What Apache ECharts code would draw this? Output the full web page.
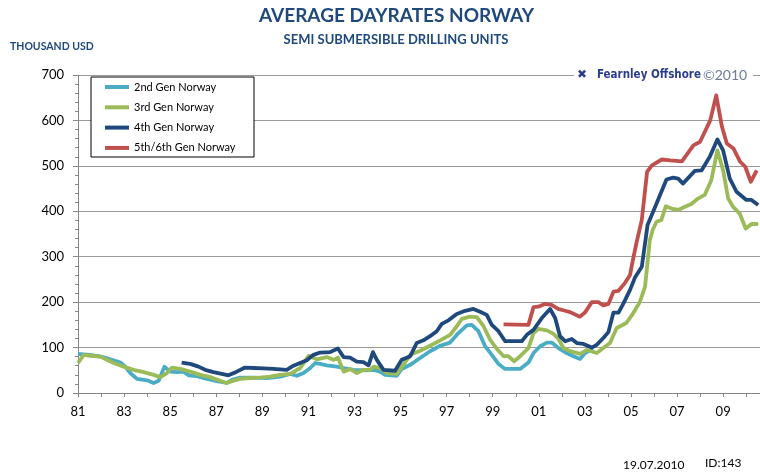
<!DOCTYPE html>
<html>
<head>
<meta charset="utf-8">
<script src="https://cdn.jsdelivr.net/npm/echarts@6/dist/echarts.min.js"></script>
<style>html,body{margin:0;padding:0;background:#fff}#c{width:760px;height:475px}</style>
</head>
<body>
<div id="c"></div>
<script>
// ---- data (year, thousand USD) ----
const seriesNames = ['2nd Gen Norway', '3rd Gen Norway', '4th Gen Norway', '5th/6th Gen Norway'];

const gen2Years = [1981.0,1981.5,1982.0,1982.4,1982.85,1983.05,1983.27,1983.56,1984.0,1984.28,1984.5,1984.75,1985.0,1985.3,1985.58,1985.8,1986.16,1986.6,1987.03,1987.46,1987.68,1988.04,1988.62,1989.2,1989.78,1990.21,1990.5,1990.79,1991.08,1991.3,1991.51,1991.8,1992.24,1992.53,1992.96,1993.54,1993.83,1994.12,1994.33,1994.84,1995.05,1995.42,1995.85,1996.28,1996.72,1997.15,1997.51,1997.88,1998.09,1998.38,1998.67,1998.96,1999.25,1999.54,2000.19,2000.55,2000.77,2001.06,2001.35,2001.56,2001.85,2002.21,2002.5,2002.79,2003.01,2003.35];
const gen2Values = [86,84,80,74,67,58,44,31,28,22,27,58,47,46,47,39,37,31,26,22,29,34,34,33,36,42,38,44,55,66,64,61,58,55,51,50,51,47,40,38,53,62,77,92,104,111,132,149,150,136,103,84,64,53,53,67,88,103,111,111,99,88,81,75,88,97];

const gen3Years = [1981.0,1981.25,1981.54,1981.97,1982.26,1982.55,1982.98,1983.41,1983.85,1984.28,1984.57,1984.86,1985.08,1985.44,1985.87,1986.31,1986.74,1987.17,1987.46,1987.68,1988.04,1988.48,1988.91,1989.34,1989.78,1990.21,1990.65,1991.01,1991.37,1991.8,1992.09,1992.28,1992.53,1992.81,1993.1,1993.39,1993.68,1993.83,1994.12,1994.41,1994.84,1995.05,1995.42,1995.85,1996.28,1996.72,1997.15,1997.44,1997.66,1998.02,1998.31,1998.6,1998.89,1999.18,1999.47,1999.68,1999.93,2000.19,2000.55,2000.77,2000.98,2001.35,2001.64,2001.85,2002.07,2002.36,2002.8,2003.09,2003.51,2003.8,2004.09,2004.38,2004.8,2005.1,2005.39,2005.61,2005.82,2005.95,2006.11,2006.32,2006.51,2006.76,2007.05,2007.34,2007.62,2007.91,2008.2,2008.49,2008.75,2009.0,2009.22,2009.43,2009.72,2009.98,2010.23,2010.52];
const gen3Values = [66,84,82,80,73,66,58,51,46,40,35,44,56,53,47,40,35,27,22,26,31,33,34,36,40,42,55,82,74,79,73,78,47,53,44,51,51,58,55,44,42,57,84,93,104,116,128,147,163,168,167,147,117,97,81,81,70,81,99,132,141,138,130,119,99,92,86,95,88,99,110,143,154,176,201,234,337,360,377,381,411,406,403,410,416,428,436,469,534,490,428,410,395,362,372,372];

const gen4Years = [1985.5,1985.87,1986.23,1986.52,1986.88,1987.24,1987.53,1987.89,1988.25,1988.62,1989.05,1989.48,1990.06,1990.35,1990.64,1990.93,1991.22,1991.51,1991.94,1992.28,1992.53,1992.81,1993.1,1993.39,1993.61,1993.8,1993.97,1994.26,1994.76,1995.05,1995.42,1995.7,1995.99,1996.28,1996.57,1996.79,1997.08,1997.44,1997.8,1998.16,1998.45,1998.74,1998.96,1999.25,1999.54,2000.26,2000.48,2000.77,2001.13,2001.49,2001.71,2001.92,2002.14,2002.43,2002.65,2002.94,2003.3,2003.51,2003.8,2004.02,2004.24,2004.46,2004.68,2004.96,2005.18,2005.47,2005.72,2006.11,2006.54,2006.83,2007.05,2007.26,2007.77,2008.06,2008.42,2008.75,2009.0,2009.29,2009.58,2010.01,2010.23,2010.52];
const gen4Values = [67,64,58,51,46,42,39,47,56,55,54,53,51,60,66,72,84,89,90,98,79,78,69,68,61,90,73,51,49,73,81,110,116,125,136,152,160,174,181,185,179,172,150,136,114,114,128,139,165,185,165,125,114,119,110,108,100,106,121,134,177,177,198,227,255,278,370,417,470,474,472,461,489,490,520,558,534,472,443,425,425,414];

const gen5Years = [1999.47,2000.55,2000.77,2000.98,2001.26,2001.55,2001.84,2002.14,2002.36,2002.78,2003.0,2003.3,2003.58,2003.8,2004.02,2004.24,2004.46,2004.75,2004.96,2005.1,2005.25,2005.47,2005.7,2005.91,2006.34,2006.7,2007.21,2007.71,2008.0,2008.44,2008.7,2008.95,2009.16,2009.45,2009.74,2009.96,2010.2,2010.46];
const gen5Values = [151,150,189,190,196,194,185,181,178,168,177,200,200,193,196,223,225,243,260,297,333,381,487,501,514,512,510,545,553,600,655,586,549,538,509,498,465,490];

const yTicks = [0,100,200,300,400,500,600,700];

const colors = ['#4BACC6', '#9BBB59', '#1F497D', '#C0504D'];
const zip = (xs, ys) => xs.map((x, i) => [x, ys[i]]);
const allYears = [gen2Years, gen3Years, gen4Years, gen5Years];
const allValues = [gen2Values, gen3Values, gen4Values, gen5Values];

const chart = echarts.init(document.getElementById('c'), null, {renderer: 'canvas'});
const FONT = 'Lato, "Open Sans", sans-serif';
const option = {
  animation: false,
  backgroundColor: '#fff',
  grid: {left: 78, right: 0, top: 75, bottom: 82},
  xAxis: {
    type: 'value', min: 1981, max: 2010.6, interval: 1,
    axisLine: {show: true, lineStyle: {color: '#868686', width: 1}},
    axisTick: {show: true, length: 4, lineStyle: {color: '#868686'}},
    splitLine: {show: false},
    axisLabel: {
      margin: 12, color: '#000', fontSize: 13, fontFamily: FONT,
      showMaxLabel: false,
      formatter: v => { const y = Math.round(v); return (y % 2 === 1) ? String(y).slice(2) : ''; }
    }
  },
  yAxis: {
    type: 'value', min: yTicks[0], max: yTicks[yTicks.length - 1], interval: 100,
    axisLine: {show: true, lineStyle: {color: '#868686', width: 1}},
    axisTick: {show: true, length: 5, lineStyle: {color: '#868686'}},
    minorTick: {show: true, splitNumber: 5, length: 3, lineStyle: {color: '#868686'}},
    splitLine: {show: true, lineStyle: {color: '#9a9a9a', width: 1}},
    axisLabel: {margin: 14, color: '#000', fontSize: 13, fontFamily: FONT}
  },
  legend: {
    orient: 'vertical', left: 105, top: 80, padding: 0,
    itemWidth: 24, itemHeight: 4, itemGap: 6.3, icon: 'rect',
    selectedMode: false,
    textStyle: {fontSize: 11, lineHeight: 14, color: '#000', fontFamily: FONT},
    data: seriesNames
  },
  series: seriesNames.map((name, i) => ({
    name, type: 'line', data: zip(allYears[i], allValues[i]),
    showSymbol: false, symbol: 'none',
    lineStyle: {color: colors[i], width: 3.8, join: 'round'},
    itemStyle: {color: colors[i]},
    z: 2
  })),
  graphic: [
    {type: 'text', x: 396.5, y: 15.5, z: 5,
      style: {text: 'AVERAGE DAYRATES NORWAY', fill: '#1F497D', font: 'bold 19px ' + FONT, textAlign: 'center', textVerticalAlign: 'middle'}},
    {type: 'text', x: 396, y: 39.7, z: 5,
      style: {text: 'SEMI SUBMERSIBLE DRILLING UNITS', fill: '#1F497D', font: 'bold 13px ' + FONT, textAlign: 'center', textVerticalAlign: 'middle'}},
    {type: 'text', x: 10, y: 47, z: 5,
      style: {text: 'THOUSAND USD', fill: '#1F497D', font: 'bold 10.5px ' + FONT, textAlign: 'left', textVerticalAlign: 'middle'}},
    {type: 'rect', z: 3, shape: {x: 91, y: 77, width: 163, height: 80},
      style: {fill: '#fff', stroke: '#000', lineWidth: 1}},
    {type: 'rect', z: 3, shape: {x: 574, y: 66, width: 179, height: 17},
      style: {fill: '#fff', stroke: null}},
    {type: 'text', x: 577, y: 75, z: 5,
      style: {text: '✖', fill: '#2B3D8C', font: 'bold 12px "DejaVu Sans"', textAlign: 'left', textVerticalAlign: 'middle'}},
    {type: 'text', x: 597, y: 75, z: 5,
      style: {text: 'Fearnley Offshore', fill: '#2B3D8C', font: 'bold 11.5px "DejaVu Sans Condensed", "DejaVu Sans"', textAlign: 'left', textVerticalAlign: 'middle'}},
    {type: 'text', x: 703, y: 75, z: 5,
      style: {text: '©2010', fill: '#6F7C99', font: '14px ' + FONT, textAlign: 'left', textVerticalAlign: 'middle'}},
    {type: 'text', x: 623, y: 465, z: 5,
      style: {text: '19.07.2010', fill: '#000', font: '12px ' + FONT, textAlign: 'left', textVerticalAlign: 'middle'}},
    {type: 'text', x: 705, y: 463, z: 5,
      style: {text: 'ID:143', fill: '#000', font: '12px ' + FONT, textAlign: 'left', textVerticalAlign: 'middle'}}
  ]
};
chart.setOption(option);
</script>
</body>
</html>
